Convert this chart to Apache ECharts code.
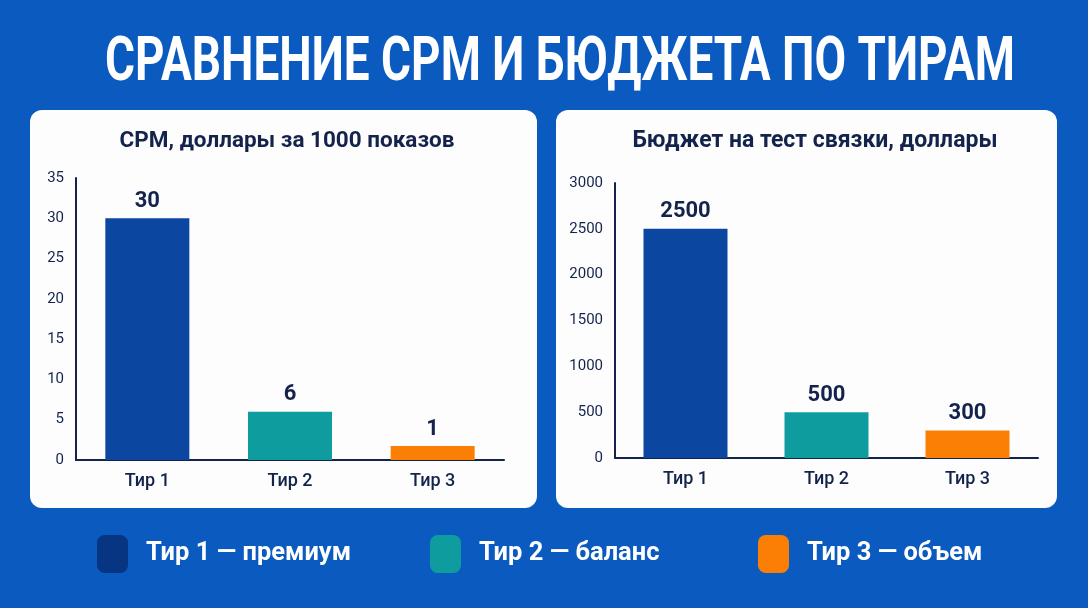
<!DOCTYPE html>
<html>
<head>
<meta charset="utf-8">
<script src="https://cdn.jsdelivr.net/npm/echarts@6/dist/echarts.min.js"></script>
<style>
  html, body { margin: 0; padding: 0; background: #0a5abf; }
  #chart { width: 1088px; height: 608px; }
</style>
</head>
<body>
<div id="chart"></div>
<script>
// данные
const tiers = ['Тир 1', 'Тир 2', 'Тир 3']
const tierNames = ['Тир 1 — премиум', 'Тир 2 — баланс', 'Тир 3 — объем']
const cpmValues = [30, 6, 1]
const budgetValues = [2500, 500, 300]

const barColors = ['#0b47a1', '#0e9c9e', '#fb7f05']
const legendColors = ['#083582', '#0e9c9e', '#fb7f05']
const navy = '#13234b'

const mainTitle = 'СРАВНЕНИЕ CPM И БЮДЖЕТА ПО ТИРАМ'
const titleFont = 'bold 62px Roboto'

// ширина заголовка в оригинале ~910px, шрифт узкий — сжимаем по X
let ctx = document.createElement('canvas').getContext('2d')
ctx.font = titleFont
let titleScaleX = 910 / ctx.measureText(mainTitle).width

let chart = echarts.init(document.getElementById('chart'))

// одна серия на тир, чтобы легенда была цветной
function tierSeries(values, axisIdx, minH) {
  return tierNames.map(function (name, i) {
    return {
      name: name,
      type: 'bar',
      xAxisIndex: axisIdx,
      yAxisIndex: axisIdx,
      barWidth: 84,
      barGap: '-100%',
      barMinHeight: minH,
      itemStyle: { color: barColors[i] },
      label: {
        show: true,
        position: 'top',
        distance: 6,
        fontFamily: 'Roboto',
        fontSize: 22,
        fontWeight: 'bold',
        color: navy
      },
      data: values.map(function (v, j) { return j === i ? v : '-' })
    }
  })
}

function legendAt(i, left) {
  return {
    left: left,
    top: 530,
    icon: 'roundRect',
    itemWidth: 31,
    itemHeight: 38,
    selectedMode: false,
    data: [{ name: tierNames[i], itemStyle: { color: legendColors[i] } }],
    textStyle: {
      fontFamily: 'Roboto',
      fontSize: 25.5,
      fontWeight: 'bold',
      color: '#ffffff',
      padding: [9, 0, 0, 13]
    }
  }
}

let axisText = {
  fontFamily: 'Roboto', fontSize: 15, color: navy, margin: 12,
  formatter: function (v) { return String(v) }
}
let catText = { fontFamily: 'Roboto', fontSize: 18, fontWeight: 500, color: navy, margin: 12 }
let lineStyle = { color: navy, width: 2 }

let option = {
  backgroundColor: '#0a5abf',
  animation: false,
  graphic: [
    { type: 'rect', z: -10, shape: { x: 30, y: 110, width: 507, height: 398, r: 12 }, style: { fill: '#fdfdfe' } },
    { type: 'rect', z: -10, shape: { x: 556, y: 110, width: 501, height: 398, r: 12 }, style: { fill: '#fdfdfe' } },
    { type: 'text', x: 560, y: 64.5, scaleX: titleScaleX, style: {
        text: mainTitle, align: 'center', verticalAlign: 'middle',
        font: titleFont, fill: '#ffffff' } },
    { type: 'text', x: 287, y: 141, style: {
        text: 'CPM, доллары за 1000 показов', align: 'center', verticalAlign: 'middle',
        fontFamily: 'Roboto', fontSize: 22.5, fontWeight: 'bold', fill: navy } },
    { type: 'text', x: 815, y: 141, style: {
        text: 'Бюджет на тест связки, доллары', align: 'center', verticalAlign: 'middle',
        fontFamily: 'Roboto', fontSize: 23, fontWeight: 'bold', fill: navy } }
  ],
  legend: [legendAt(0, 92), legendAt(1, 425), legendAt(2, 753)],
  grid: [
    { left: 76, right: 584, top: 178, bottom: 148 },
    { left: 615, right: 50, top: 183, bottom: 150 }
  ],
  xAxis: [0, 1].map(function (i) {
    return {
      type: 'category', gridIndex: i, data: tiers,
      axisLine: { lineStyle: lineStyle }, axisTick: { show: false },
      axisLabel: catText
    }
  }),
  yAxis: [
    { type: 'value', gridIndex: 0, min: 0, max: 35, interval: 5,
      axisLine: { show: true, lineStyle: lineStyle }, axisTick: { show: false },
      splitLine: { show: false }, axisLabel: axisText },
    { type: 'value', gridIndex: 1, min: 0, max: 3000, interval: 500,
      axisLine: { show: true, lineStyle: lineStyle }, axisTick: { show: false },
      splitLine: { show: false }, axisLabel: axisText }
  ],
  series: tierSeries(cpmValues, 0, 14).concat(tierSeries(budgetValues, 1, 0))
}
chart.setOption(option)
</script>
</body>
</html>
